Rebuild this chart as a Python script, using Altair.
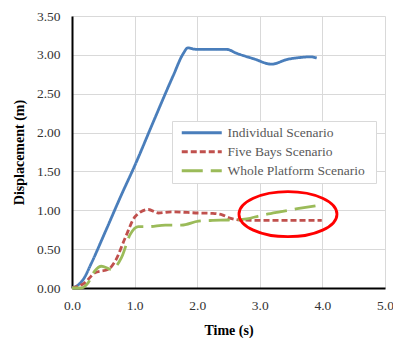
import altair as alt
import pandas as pd

series_names = ["Individual Scenario", "Five Bays Scenario", "Whole Platform Scenario"]
series_colors = ["#4a7ebb", "#c0504d", "#9bbb59"]
series_dashes = [[1, 0], [6, 3], [21, 8]]

t_individual = [0.0, 0.1, 0.18, 0.31, 0.53, 0.79, 1.0, 1.3, 1.61, 1.78, 1.85, 1.99, 2.2, 2.47, 2.63, 2.9, 3.19, 3.43, 3.7, 3.8, 3.91]
d_individual = [0.0, 0.04, 0.11, 0.32, 0.72, 1.2, 1.57, 2.14, 2.72, 3.02, 3.09, 3.07, 3.07, 3.07, 3.02, 2.95, 2.88, 2.94, 2.97, 2.975, 2.96]

t_five = [0.0, 0.205, 0.365, 0.58, 0.69, 0.85, 1.01, 1.22, 1.38, 1.59, 2.02, 2.25, 2.4, 2.52, 2.68, 3.05, 3.5, 3.99]
d_five = [0.0, 0.067, 0.195, 0.24, 0.345, 0.645, 0.92, 1.01, 0.965, 0.98, 0.965, 0.96, 0.94, 0.9, 0.875, 0.87, 0.87, 0.87]

t_whole = [0.0, 0.15, 0.26, 0.365, 0.47, 0.63, 0.79, 0.93, 1.06, 1.22, 1.49, 1.75, 2.02, 2.25, 2.5, 2.79, 3.0, 3.32, 3.6, 3.99]
d_whole = [0.0, 0.0, 0.07, 0.22, 0.28, 0.24, 0.39, 0.69, 0.79, 0.79, 0.81, 0.81, 0.86, 0.87, 0.875, 0.89, 0.93, 0.98, 1.02, 1.07]

x_ticks = [0, 1, 2, 3, 4, 5]
y_ticks = [0, 0.5, 1.0, 1.5, 2.0, 2.5, 3.0, 3.5]

ellipse_t = [3.45]
ellipse_d = [0.95]

rows = []
for name, ts, ds in zip(series_names, [t_individual, t_five, t_whole], [d_individual, d_five, d_whole]):
    for i, (t, d) in enumerate(zip(ts, ds)):
        rows.append({"series": name, "t": t, "d": d, "order": i})
df = pd.DataFrame(rows)
ell_df = pd.DataFrame({"t": ellipse_t, "d": ellipse_d})

FONT = "Liberation Serif"

x_enc = alt.X("t:Q", scale=alt.Scale(domain=[0, 5], nice=False),
              axis=alt.Axis(values=x_ticks, format=".1f", title="Time (s)", labelFlush=False))
y_enc = alt.Y("d:Q", scale=alt.Scale(domain=[0, 3.5], nice=False),
              axis=alt.Axis(values=y_ticks, format=".2f", title="Displacement (m)",
                            labelFlush=False, labelOverlap=False))

lines = alt.Chart(df).mark_line(strokeWidth=2.8, interpolate="monotone").encode(
    x=x_enc,
    y=y_enc,
    order="order:Q",
    color=alt.Color("series:N", scale=alt.Scale(domain=series_names, range=series_colors),
                    legend=alt.Legend(title=".", titleOrient="right", titleColor="white",
                                      titleFontSize=8, titlePadding=3,
                                      orient="none", legendX=100, legendY=105,
                                      symbolType="M -0.4 0 L 7.6 0", symbolSize=100,
                                      symbolStrokeWidth=3, labelOffset=37,
                                      labelFont=FONT, labelFontSize=13.5, labelColor="#595959",
                                      fillColor="white", strokeColor="#d9d9d9", padding=5,
                                      rowPadding=4)),
    strokeDash=alt.StrokeDash("series:N", scale=alt.Scale(domain=series_names, range=series_dashes),
                              legend=None),
)

ellipse_path = ("M -1 0 C -1 -0.254 -0.552 -0.46 0 -0.46 C 0.552 -0.46 1 -0.254 1 0 "
                "C 1 0.254 0.552 0.46 0 0.46 C -0.552 0.46 -1 0.254 -1 0 Z")
ellipse = alt.Chart(ell_df).mark_point(shape=ellipse_path, size=9604, filled=False,
                                       stroke="#ff0000", strokeWidth=2.8, opacity=1).encode(
    x=x_enc, y=y_enc)

chart = alt.layer(lines, ellipse).properties(
    width=313, height=272, autosize="none",
    padding={"left": 72, "top": 16, "right": 8, "bottom": 50},
    background="white",
).configure_view(stroke=None).configure_axis(
    domainColor="black", domainWidth=2, grid=True, gridColor="#d9d9d9", gridWidth=1,
    ticks=False, labelFont=FONT, labelFontSize=13.5, labelColor="#333333",
    titleFont=FONT, titleFontSize=14, titleFontWeight="bold", titleColor="black",
).configure_axisY(labelPadding=12, titlePadding=10).configure_axisX(labelPadding=10, titlePadding=12)

chart.save("out.html", embed_options={"renderer": "svg", "actions": False})
